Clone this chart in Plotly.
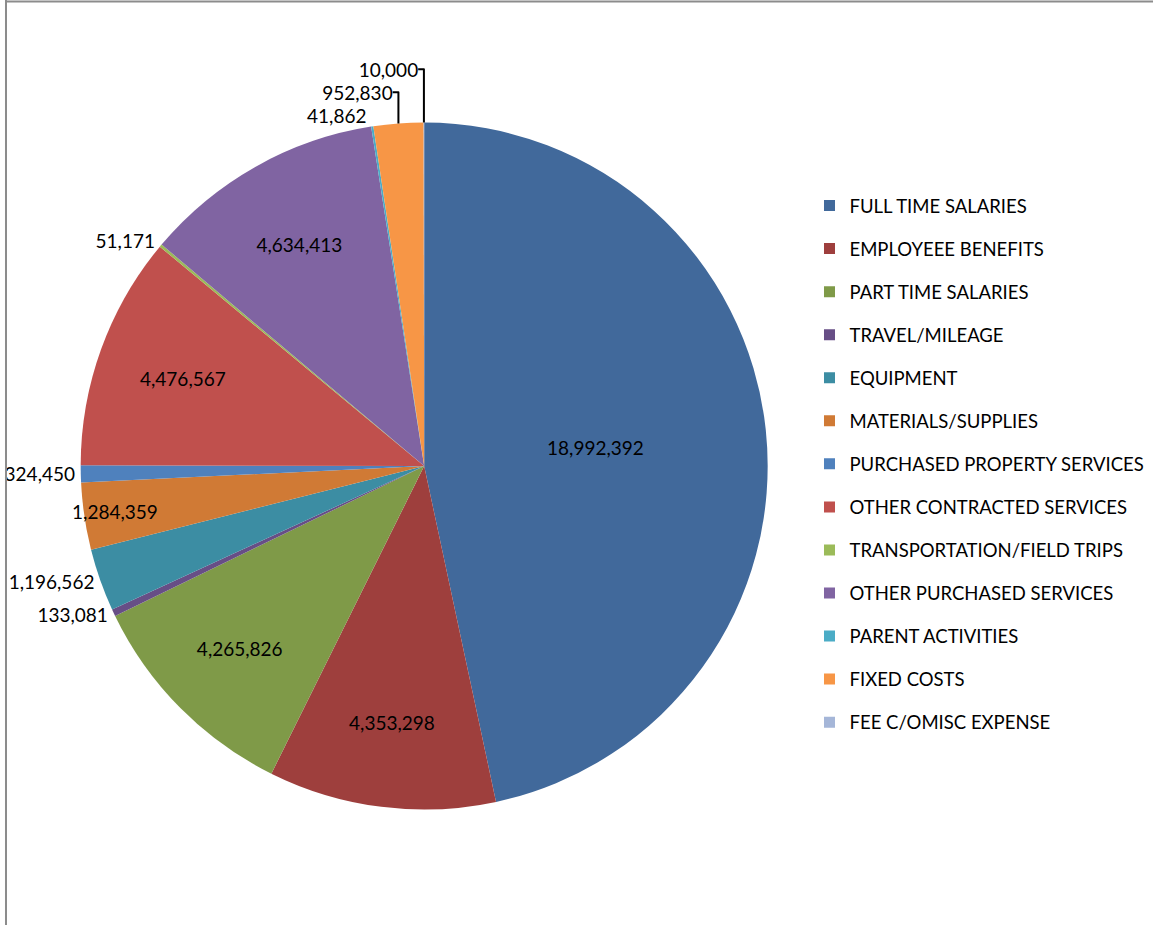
import plotly.graph_objects as go

categories = [
    "FULL TIME SALARIES", "EMPLOYEEE BENEFITS", "PART TIME SALARIES", "TRAVEL/MILEAGE",
    "EQUIPMENT", "MATERIALS/SUPPLIES", "PURCHASED PROPERTY SERVICES",
    "OTHER CONTRACTED SERVICES", "TRANSPORTATION/FIELD TRIPS", "OTHER PURCHASED SERVICES",
    "PARENT ACTIVITIES", "FIXED COSTS", "FEE C/OMISC EXPENSE",
]
values = [18992392, 4353298, 4265826, 133081, 1196562, 1284359, 324450,
          4476567, 51171, 4634413, 41862, 952830, 10000]
colors = ["#41699B", "#9E3F3D", "#7F9A48", "#674E86", "#3C8DA3", "#D07A35", "#4F81BD",
          "#C0504D", "#9BBB59", "#8064A2", "#4BACC6", "#F79646", "#A5B6D8"]
text_pos = ["inside", "inside", "inside", "outside", "outside", "inside", "outside",
            "inside", "outside", "inside", "outside", "outside", "outside"]

W, H = 1153, 925
cx, cy, r = 421, 466, 345
FONT = "Lato"

fig = go.Figure()
fig.add_trace(go.Pie(
    labels=categories, values=values, sort=False, direction="clockwise", rotation=0,
    marker=dict(colors=colors, line=dict(width=0)),
    texttemplate="%{value:,}", textposition=text_pos,
    insidetextorientation="horizontal",
    textfont=dict(family=FONT, size=19, color="black"),
    showlegend=False, hoverinfo="label+value",
    domain=dict(x=[(cx - r) / W, (cx + r) / W], y=[(H - cy - r) / H, (H - cy + r) / H]),
))

for i, (c, col) in enumerate(zip(categories, colors)):
    fig.add_trace(go.Scatter(
        x=[None], y=[None], mode="markers", name=c, legendgroup=f"g{i}",
        marker=dict(symbol="square", size=11, color=col), hoverinfo="skip",
    ))

fig.update_layout(
    width=W, height=H,
    margin=dict(l=0, r=0, t=0, b=0),
    paper_bgcolor="white", plot_bgcolor="white",
    xaxis=dict(visible=False), yaxis=dict(visible=False),
    font=dict(family=FONT, size=18, color="black"),
    uniformtext=dict(minsize=19, mode="show"),
    legend=dict(x=808 / W, y=1 - 187 / H, xanchor="left", yanchor="top",
                tracegroupgap=16, font=dict(family=FONT, size=18.5, color="black"),
                itemsizing="trace", bgcolor="rgba(0,0,0,0)"),
    shapes=[
        dict(type="line", xref="paper", yref="paper", x0=0, x1=1, y0=1 - 1.5 / H, y1=1 - 1.5 / H,
             line=dict(color="#8c8c8c", width=2)),
        dict(type="line", xref="paper", yref="paper", x0=1 / W, x1=1 / W, y0=0, y1=1,
             line=dict(color="#8c8c8c", width=2)),
    ],
)

fig.write_html("out.html", config={"displayModeBar": False},
               post_script="document.body.style.margin='0px';document.body.style.padding='0px';")
